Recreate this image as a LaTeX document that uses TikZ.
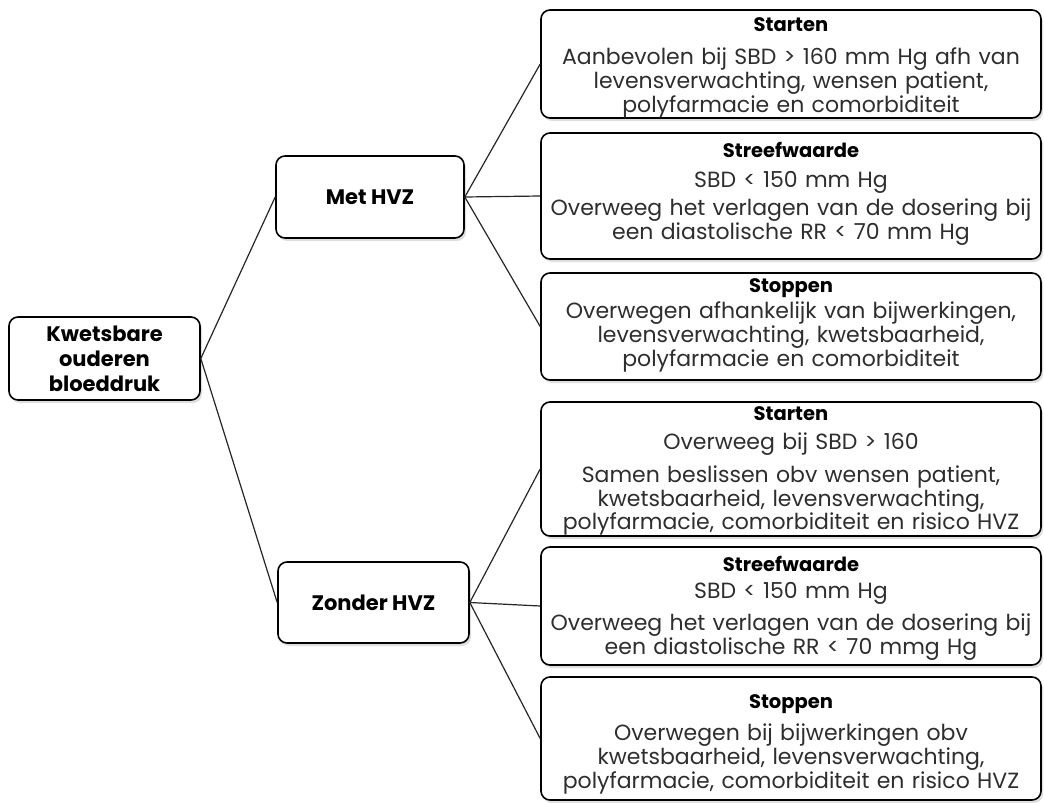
\documentclass[tikz,border=0pt]{standalone}
\usepackage{fontspec}
\setmainfont{Poppins}
\usetikzlibrary{shadows}
\definecolor{txt}{HTML}{2E2E2E}
\tikzset{
  box/.style={draw=black, line width=1.6pt, rounded corners=9pt, fill=white,
    drop shadow={opacity=0.25, shadow xshift=2pt, shadow yshift=-3pt},
    inner sep=0pt, minimum width=500pt},
  headbox/.style={box, align=center, font=\fontsize{21}{25}\selectfont\bfseries, text=black},
  body/.style={inner sep=0pt, align=center, text width=495pt, text=txt,
    font=\fontsize{22}{21.5}\selectfont},
  conn/.style={line width=1.2pt, draw=black!85}
}
\newcommand{\ttl}[1]{{\fontsize{19.5}{22}\selectfont\bfseries\color{black}#1}}
\begin{document}
\begin{tikzpicture}[x=1pt,y=1pt]
\useasboundingbox (0,0) rectangle (1044,-803);
\fill[white] (0,0) rectangle (1044,-803);
% level 0 and 1
\node[headbox, minimum width=191pt, minimum height=83pt] (root) at (104.5,-358.5) {Kwetsbare\\ouderen\\bloeddruk};
\node[headbox, minimum width=188pt, minimum height=82pt] (met) at (370,-197) {Met HVZ};
\node[headbox, minimum width=191pt, minimum height=81pt] (zon) at (373.5,-602.5) {Zonder HVZ};
% right column boxes
\node[box, minimum height=108pt] (r1) at (791,-64) {};
\node[box, minimum height=126pt] (r2) at (791,-196) {};
\node[box, minimum height=107pt] (r3) at (791,-326.5) {};
\node[box, minimum height=134pt] (r4) at (791,-469) {};
\node[box, minimum height=118pt] (r5) at (791,-606) {};
\node[box, minimum height=123pt] (r6) at (791,-738.5) {};
% texts
\node[body] (t1) at ([yshift=-3.5pt]r1.center)
  {\ttl{Starten}\\[12pt]Aanbevolen bij SBD > 160 mm Hg afh van\\levensverwachting, wensen patient,\\polyfarmacie en comorbiditeit};
\node[body] (t2) at ([yshift=2pt]r2.center)
  {\ttl{Streefwaarde}\\[8pt]SBD < 150 mm Hg\\[5pt]Overweeg het verlagen van de dosering bij\\een diastolische RR < 70 mm Hg};
\node[body] (t3) at ([yshift=1pt]r3.center)
  {\ttl{Stoppen}\\[3pt]Overwegen afhankelijk van bijwerkingen,\\levensverwachting, kwetsbaarheid,\\polyfarmacie en comorbiditeit};
\node[body] (t4) at ([yshift=-2pt]r4.center)
  {\ttl{Starten}\\[8pt]Overweeg bij SBD > 160\\[9pt]Samen beslissen obv wensen patient,\\kwetsbaarheid, levensverwachting,\\polyfarmacie, comorbiditeit en risico HVZ};
\node[body] (t5) at ([yshift=-2pt]r5.center)
  {\ttl{Streefwaarde}\\[6pt]SBD < 150 mm Hg\\[8pt]Overweeg het verlagen van de dosering bij\\een diastolische RR < 70 mmg Hg};
\node[body] (t6) at ([yshift=-6pt]r6.center)
  {\ttl{Stoppen}\\[9pt]Overwegen bij bijwerkingen obv\\kwetsbaarheid, levensverwachting,\\polyfarmacie, comorbiditeit en risico HVZ};
% connectors
\draw[conn] (root.east) -- (met.west);
\draw[conn] (root.east) -- (zon.west);
\draw[conn] (met.east) -- (r1.west);
\draw[conn] (met.east) -- (r2.west);
\draw[conn] (met.east) -- (r3.west);
\draw[conn] (zon.east) -- (r4.west);
\draw[conn] (zon.east) -- (r5.west);
\draw[conn] (zon.east) -- (r6.west);
\end{tikzpicture}
\end{document}
